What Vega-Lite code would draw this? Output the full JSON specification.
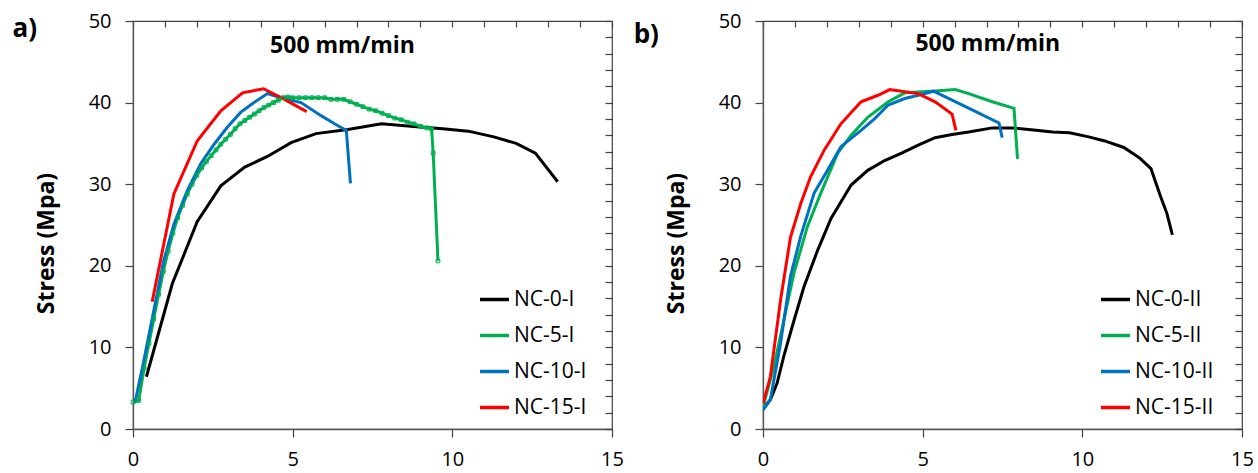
{
  "$schema": "https://vega.github.io/schema/vega-lite/v6.json",
  "background": "white",
  "padding": {"left": 12, "top": 10, "right": 4, "bottom": 2},
  "bounds": "flush",
  "spacing": 151,
  "datasets": {
    "a": [
      {"series": "NC-0-I", "strain": 0.42, "stress": 6.4},
      {"series": "NC-0-I", "strain": 1.23, "stress": 17.8},
      {"series": "NC-0-I", "strain": 2.01, "stress": 25.4},
      {"series": "NC-0-I", "strain": 2.75, "stress": 29.8},
      {"series": "NC-0-I", "strain": 3.5, "stress": 32.1},
      {"series": "NC-0-I", "strain": 4.21, "stress": 33.4},
      {"series": "NC-0-I", "strain": 4.95, "stress": 35.1},
      {"series": "NC-0-I", "strain": 5.73, "stress": 36.2},
      {"series": "NC-0-I", "strain": 6.73, "stress": 36.7},
      {"series": "NC-0-I", "strain": 7.78, "stress": 37.4},
      {"series": "NC-0-I", "strain": 8.7, "stress": 37.1},
      {"series": "NC-0-I", "strain": 9.7, "stress": 36.8},
      {"series": "NC-0-I", "strain": 10.5, "stress": 36.5},
      {"series": "NC-0-I", "strain": 11.3, "stress": 35.8},
      {"series": "NC-0-I", "strain": 12.0, "stress": 35.0},
      {"series": "NC-0-I", "strain": 12.6, "stress": 33.8},
      {"series": "NC-0-I", "strain": 13.3, "stress": 30.3},
      {"series": "NC-5-I", "strain": 0.0, "stress": 3.3},
      {"series": "NC-5-I", "strain": 0.18, "stress": 3.5},
      {"series": "NC-5-I", "strain": 0.35, "stress": 7.5},
      {"series": "NC-5-I", "strain": 0.5, "stress": 10.5},
      {"series": "NC-5-I", "strain": 0.65, "stress": 13.5},
      {"series": "NC-5-I", "strain": 0.8, "stress": 16.5},
      {"series": "NC-5-I", "strain": 0.95, "stress": 19.3},
      {"series": "NC-5-I", "strain": 1.1, "stress": 21.8},
      {"series": "NC-5-I", "strain": 1.25, "stress": 24.0},
      {"series": "NC-5-I", "strain": 1.4, "stress": 25.9},
      {"series": "NC-5-I", "strain": 1.55, "stress": 27.4},
      {"series": "NC-5-I", "strain": 1.7, "stress": 28.8},
      {"series": "NC-5-I", "strain": 1.85, "stress": 30.0},
      {"series": "NC-5-I", "strain": 2.0, "stress": 31.1},
      {"series": "NC-5-I", "strain": 2.15, "stress": 32.0},
      {"series": "NC-5-I", "strain": 2.3, "stress": 32.8},
      {"series": "NC-5-I", "strain": 2.45, "stress": 33.5},
      {"series": "NC-5-I", "strain": 2.6, "stress": 34.2},
      {"series": "NC-5-I", "strain": 2.75, "stress": 34.9},
      {"series": "NC-5-I", "strain": 2.9, "stress": 35.5},
      {"series": "NC-5-I", "strain": 3.05, "stress": 36.1},
      {"series": "NC-5-I", "strain": 3.2, "stress": 36.8},
      {"series": "NC-5-I", "strain": 3.35, "stress": 37.4},
      {"series": "NC-5-I", "strain": 3.5, "stress": 37.8},
      {"series": "NC-5-I", "strain": 3.65, "stress": 38.2},
      {"series": "NC-5-I", "strain": 3.8, "stress": 38.6},
      {"series": "NC-5-I", "strain": 3.95, "stress": 39.0},
      {"series": "NC-5-I", "strain": 4.1, "stress": 39.4},
      {"series": "NC-5-I", "strain": 4.25, "stress": 39.7},
      {"series": "NC-5-I", "strain": 4.4, "stress": 40.0},
      {"series": "NC-5-I", "strain": 4.55, "stress": 40.3},
      {"series": "NC-5-I", "strain": 4.7, "stress": 40.6},
      {"series": "NC-5-I", "strain": 4.85, "stress": 40.7},
      {"series": "NC-5-I", "strain": 5.0, "stress": 40.6},
      {"series": "NC-5-I", "strain": 5.2, "stress": 40.6},
      {"series": "NC-5-I", "strain": 5.4, "stress": 40.6},
      {"series": "NC-5-I", "strain": 5.6, "stress": 40.6},
      {"series": "NC-5-I", "strain": 5.8, "stress": 40.6},
      {"series": "NC-5-I", "strain": 6.0, "stress": 40.6},
      {"series": "NC-5-I", "strain": 6.2, "stress": 40.4},
      {"series": "NC-5-I", "strain": 6.4, "stress": 40.4},
      {"series": "NC-5-I", "strain": 6.6, "stress": 40.4},
      {"series": "NC-5-I", "strain": 6.8, "stress": 40.1},
      {"series": "NC-5-I", "strain": 7.0, "stress": 39.8},
      {"series": "NC-5-I", "strain": 7.2, "stress": 39.5},
      {"series": "NC-5-I", "strain": 7.4, "stress": 39.2},
      {"series": "NC-5-I", "strain": 7.6, "stress": 39.0},
      {"series": "NC-5-I", "strain": 7.8, "stress": 38.7},
      {"series": "NC-5-I", "strain": 8.0, "stress": 38.4},
      {"series": "NC-5-I", "strain": 8.2, "stress": 38.1},
      {"series": "NC-5-I", "strain": 8.4, "stress": 37.9},
      {"series": "NC-5-I", "strain": 8.6, "stress": 37.6},
      {"series": "NC-5-I", "strain": 8.8, "stress": 37.4},
      {"series": "NC-5-I", "strain": 9.0, "stress": 37.1},
      {"series": "NC-5-I", "strain": 9.2, "stress": 36.9},
      {"series": "NC-5-I", "strain": 9.35, "stress": 36.8},
      {"series": "NC-5-I", "strain": 9.4, "stress": 33.8},
      {"series": "NC-5-I", "strain": 9.55, "stress": 20.6},
      {"series": "NC-10-I", "strain": 0.05, "stress": 3.2},
      {"series": "NC-10-I", "strain": 0.1, "stress": 3.9},
      {"series": "NC-10-I", "strain": 0.34, "stress": 8.4},
      {"series": "NC-10-I", "strain": 0.65, "stress": 14.5},
      {"series": "NC-10-I", "strain": 0.96, "stress": 20.6},
      {"series": "NC-10-I", "strain": 1.28, "stress": 25.1},
      {"series": "NC-10-I", "strain": 1.7, "stress": 29.2},
      {"series": "NC-10-I", "strain": 2.12, "stress": 32.5},
      {"series": "NC-10-I", "strain": 2.54, "stress": 34.9},
      {"series": "NC-10-I", "strain": 2.96, "stress": 37.0},
      {"series": "NC-10-I", "strain": 3.37, "stress": 38.8},
      {"series": "NC-10-I", "strain": 3.79, "stress": 40.0},
      {"series": "NC-10-I", "strain": 4.21, "stress": 41.1},
      {"series": "NC-10-I", "strain": 4.63, "stress": 40.6},
      {"series": "NC-10-I", "strain": 5.26, "stress": 40.0},
      {"series": "NC-10-I", "strain": 5.89, "stress": 38.4},
      {"series": "NC-10-I", "strain": 6.31, "stress": 37.4},
      {"series": "NC-10-I", "strain": 6.68, "stress": 36.6},
      {"series": "NC-10-I", "strain": 6.81, "stress": 30.1},
      {"series": "NC-15-I", "strain": 0.6, "stress": 15.6},
      {"series": "NC-15-I", "strain": 1.28, "stress": 28.8},
      {"series": "NC-15-I", "strain": 2.01, "stress": 35.3},
      {"series": "NC-15-I", "strain": 2.75, "stress": 39.0},
      {"series": "NC-15-I", "strain": 3.43, "stress": 41.2},
      {"series": "NC-15-I", "strain": 4.09, "stress": 41.7},
      {"series": "NC-15-I", "strain": 4.74, "stress": 40.4},
      {"series": "NC-15-I", "strain": 5.44, "stress": 38.9}
    ],
    "b": [
      {"series": "NC-0-II", "strain": 0.0, "stress": 2.5},
      {"series": "NC-0-II", "strain": 0.23, "stress": 3.6},
      {"series": "NC-0-II", "strain": 0.44, "stress": 5.6},
      {"series": "NC-0-II", "strain": 0.65, "stress": 8.9},
      {"series": "NC-0-II", "strain": 0.97, "stress": 13.3},
      {"series": "NC-0-II", "strain": 1.28, "stress": 17.4},
      {"series": "NC-0-II", "strain": 1.71, "stress": 21.9},
      {"series": "NC-0-II", "strain": 2.13, "stress": 25.8},
      {"series": "NC-0-II", "strain": 2.76, "stress": 29.9},
      {"series": "NC-0-II", "strain": 3.28, "stress": 31.7},
      {"series": "NC-0-II", "strain": 3.81, "stress": 32.9},
      {"series": "NC-0-II", "strain": 4.34, "stress": 33.8},
      {"series": "NC-0-II", "strain": 4.86, "stress": 34.8},
      {"series": "NC-0-II", "strain": 5.39, "stress": 35.7},
      {"series": "NC-0-II", "strain": 5.92, "stress": 36.1},
      {"series": "NC-0-II", "strain": 6.44, "stress": 36.4},
      {"series": "NC-0-II", "strain": 7.18, "stress": 36.9},
      {"series": "NC-0-II", "strain": 7.81, "stress": 36.9},
      {"series": "NC-0-II", "strain": 8.55, "stress": 36.6},
      {"series": "NC-0-II", "strain": 9.07, "stress": 36.4},
      {"series": "NC-0-II", "strain": 9.6, "stress": 36.3},
      {"series": "NC-0-II", "strain": 10.2, "stress": 35.8},
      {"series": "NC-0-II", "strain": 10.7, "stress": 35.3},
      {"series": "NC-0-II", "strain": 11.3, "stress": 34.5},
      {"series": "NC-0-II", "strain": 11.8, "stress": 33.2},
      {"series": "NC-0-II", "strain": 12.15, "stress": 31.9},
      {"series": "NC-0-II", "strain": 12.45, "stress": 28.5},
      {"series": "NC-0-II", "strain": 12.65, "stress": 26.4},
      {"series": "NC-0-II", "strain": 12.82, "stress": 23.8},
      {"series": "NC-5-II", "strain": 0.0, "stress": 2.7},
      {"series": "NC-5-II", "strain": 0.34, "stress": 7.6},
      {"series": "NC-5-II", "strain": 0.65, "stress": 13.3},
      {"series": "NC-5-II", "strain": 0.97, "stress": 19.1},
      {"series": "NC-5-II", "strain": 1.39, "stress": 24.8},
      {"series": "NC-5-II", "strain": 1.81, "stress": 28.9},
      {"series": "NC-5-II", "strain": 2.34, "stress": 33.8},
      {"series": "NC-5-II", "strain": 2.76, "stress": 36.0},
      {"series": "NC-5-II", "strain": 3.28, "stress": 38.2},
      {"series": "NC-5-II", "strain": 3.92, "stress": 40.1},
      {"series": "NC-5-II", "strain": 4.44, "stress": 41.2},
      {"series": "NC-5-II", "strain": 5.28, "stress": 41.4},
      {"series": "NC-5-II", "strain": 6.02, "stress": 41.6},
      {"series": "NC-5-II", "strain": 6.44, "stress": 41.1},
      {"series": "NC-5-II", "strain": 7.18, "stress": 40.1},
      {"series": "NC-5-II", "strain": 7.86, "stress": 39.3},
      {"series": "NC-5-II", "strain": 7.97, "stress": 33.1},
      {"series": "NC-10-II", "strain": 0.0, "stress": 2.3},
      {"series": "NC-10-II", "strain": 0.23, "stress": 3.6},
      {"series": "NC-10-II", "strain": 0.55, "stress": 10.5},
      {"series": "NC-10-II", "strain": 0.86, "stress": 18.7},
      {"series": "NC-10-II", "strain": 1.18, "stress": 23.6},
      {"series": "NC-10-II", "strain": 1.6, "stress": 28.9},
      {"series": "NC-10-II", "strain": 2.02, "stress": 31.7},
      {"series": "NC-10-II", "strain": 2.44, "stress": 34.6},
      {"series": "NC-10-II", "strain": 3.07, "stress": 36.6},
      {"series": "NC-10-II", "strain": 3.49, "stress": 38.0},
      {"series": "NC-10-II", "strain": 3.92, "stress": 39.7},
      {"series": "NC-10-II", "strain": 4.44, "stress": 40.5},
      {"series": "NC-10-II", "strain": 4.86, "stress": 40.9},
      {"series": "NC-10-II", "strain": 5.34, "stress": 41.4},
      {"series": "NC-10-II", "strain": 5.92, "stress": 40.3},
      {"series": "NC-10-II", "strain": 6.55, "stress": 39.1},
      {"series": "NC-10-II", "strain": 7.39, "stress": 37.5},
      {"series": "NC-10-II", "strain": 7.49, "stress": 35.7},
      {"series": "NC-15-II", "strain": 0.0, "stress": 3.1},
      {"series": "NC-15-II", "strain": 0.23, "stress": 6.4},
      {"series": "NC-15-II", "strain": 0.55, "stress": 15.8},
      {"series": "NC-15-II", "strain": 0.86, "stress": 23.5},
      {"series": "NC-15-II", "strain": 1.18, "stress": 27.6},
      {"series": "NC-15-II", "strain": 1.49, "stress": 30.9},
      {"series": "NC-15-II", "strain": 1.92, "stress": 34.2},
      {"series": "NC-15-II", "strain": 2.44, "stress": 37.4},
      {"series": "NC-15-II", "strain": 3.07, "stress": 40.1},
      {"series": "NC-15-II", "strain": 3.6, "stress": 40.9},
      {"series": "NC-15-II", "strain": 3.97, "stress": 41.6},
      {"series": "NC-15-II", "strain": 4.34, "stress": 41.4},
      {"series": "NC-15-II", "strain": 4.86, "stress": 41.1},
      {"series": "NC-15-II", "strain": 5.39, "stress": 40.1},
      {"series": "NC-15-II", "strain": 5.92, "stress": 38.6},
      {"series": "NC-15-II", "strain": 6.04, "stress": 36.6}
    ]
  },
  "resolve": {"scale": {"color": "independent"}, "legend": {"color": "independent"}},
  "hconcat": [
    {
      "width": 479,
      "height": 408,
      "resolve": {"axis": {"x": "independent", "y": "independent"}},
      "layer": [
        {
          "data": {"name": "a"},
          "mark": {"type": "line", "strokeWidth": 3, "clip": true},
          "encoding": {
            "x": {"field": "strain", "type": "quantitative", "scale": {"domain": [0, 15], "nice": false, "zero": false},
              "axis": {"values": [0, 5, 10, 15], "tickSize": 8, "labelPadding": 12, "title": null}},
            "y": {"field": "stress", "type": "quantitative", "scale": {"domain": [0, 50], "nice": false},
              "axis": {"values": [0, 10, 20, 30, 40, 50], "tickSize": 8, "labelPadding": 14, "title": "Stress (Mpa)", "titleX": -87, "titleY": 222, "titleBaseline": "middle"}},
            "color": {"field": "series", "type": "nominal",
              "scale": {"domain": ["NC-0-I", "NC-5-I", "NC-10-I", "NC-15-I"], "range": ["#000000", "#00B050", "#0070C0", "#FF0000"]},
              "legend": {"title": null, "orient": "none", "legendX": 345, "legendY": 262}}
          }
        },
        {
          "data": {"name": "a"},
          "transform": [{"filter": "datum.series === 'NC-5-I'"}],
          "mark": {"type": "point", "shape": "square", "size": 14, "filled": false, "color": "#00B050", "strokeWidth": 1, "opacity": 1},
          "encoding": {
            "x": {"field": "strain", "type": "quantitative",
              "axis": {"values": [0, 1, 2, 3, 4, 5, 6, 7, 8, 9, 10, 11, 12, 13, 14, 15], "tickSize": -6, "labels": false, "domain": false, "title": null}},
            "y": {"field": "stress", "type": "quantitative",
              "axis": {"values": [0, 2, 4, 6, 8, 10, 12, 14, 16, 18, 20, 22, 24, 26, 28, 30, 32, 34, 36, 38, 40, 42, 44, 46, 48, 50], "tickSize": -7, "labels": false, "domain": false, "title": null}}
          }
        },
        {
          "data": {"values": [{"label": "500 mm/min"}]},
          "mark": {"type": "text", "fontSize": 23, "fontWeight": "bold", "align": "center", "baseline": "middle", "color": "#000000"},
          "encoding": {
            "x": {"datum": 6.56, "type": "quantitative", "axis": null},
            "y": {"datum": 46.9, "type": "quantitative", "axis": null},
            "text": {"field": "label"}
          }
        },
        {
          "data": {"values": [{"label": "a)"}]},
          "mark": {"type": "text", "fontSize": 26, "fontWeight": "bold", "align": "left", "baseline": "middle", "color": "#000000"},
          "encoding": {
            "x": {"datum": -3.77, "type": "quantitative", "axis": null},
            "y": {"datum": 49.05, "type": "quantitative", "axis": null},
            "text": {"field": "label"}
          }
        }
      ]
    },
    {
      "width": 479,
      "height": 408,
      "resolve": {"axis": {"x": "independent", "y": "independent"}},
      "layer": [
        {
          "data": {"name": "b"},
          "mark": {"type": "line", "strokeWidth": 3, "clip": true},
          "encoding": {
            "x": {"field": "strain", "type": "quantitative", "scale": {"domain": [0, 15], "nice": false, "zero": false},
              "axis": {"values": [0, 5, 10, 15], "tickSize": 8, "labelPadding": 12, "title": null}},
            "y": {"field": "stress", "type": "quantitative", "scale": {"domain": [0, 50], "nice": false},
              "axis": {"values": [0, 10, 20, 30, 40, 50], "tickSize": 8, "labelPadding": 14, "title": "Stress (Mpa)", "titleX": -87, "titleY": 222, "titleBaseline": "middle"}},
            "color": {"field": "series", "type": "nominal",
              "scale": {"domain": ["NC-0-II", "NC-5-II", "NC-10-II", "NC-15-II"], "range": ["#000000", "#00B050", "#0070C0", "#FF0000"]},
              "legend": {"title": null, "orient": "none", "legendX": 336, "legendY": 262}}
          }
        },
        {
          "data": {"values": [{"label": "500 mm/min"}]},
          "mark": {"type": "text", "fontSize": 23, "fontWeight": "bold", "align": "center", "baseline": "middle", "color": "#000000"},
          "encoding": {
            "x": {"datum": 7.04, "type": "quantitative",
              "axis": {"values": [0, 1, 2, 3, 4, 5, 6, 7, 8, 9, 10, 11, 12, 13, 14, 15], "tickSize": -6, "labels": false, "domain": false, "title": null}},
            "y": {"datum": 47.2, "type": "quantitative",
              "axis": {"values": [0, 2, 4, 6, 8, 10, 12, 14, 16, 18, 20, 22, 24, 26, 28, 30, 32, 34, 36, 38, 40, 42, 44, 46, 48, 50], "tickSize": -7, "labels": false, "domain": false, "title": null}},
            "text": {"field": "label"}
          }
        },
        {
          "data": {"values": [{"label": "b)"}]},
          "mark": {"type": "text", "fontSize": 26, "fontWeight": "bold", "align": "left", "baseline": "middle", "color": "#000000"},
          "encoding": {
            "x": {"datum": -4.05, "type": "quantitative", "axis": null},
            "y": {"datum": 48.3, "type": "quantitative", "axis": null},
            "text": {"field": "label"}
          }
        }
      ]
    }
  ],
  "config": {
    "font": "Open Sans",
    "view": {"stroke": "#404040", "strokeWidth": 1.2},
    "axis": {
      "grid": false,
      "labelFlush": false,
      "labelFontSize": 20,
      "labelColor": "#000000",
      "labelFont": "Open Sans",
      "titleFont": "Open Sans",
      "titleFontSize": 23,
      "titleFontWeight": "bold",
      "titleColor": "#000000",
      "domainColor": "#555555",
      "domainWidth": 1.3,
      "tickColor": "#404040",
      "tickWidth": 1.2
    },
    "legend": {
      "symbolType": "stroke",
      "symbolSize": 841,
      "symbolStrokeWidth": 3.5,
      "labelFontSize": 21,
      "labelFont": "Open Sans",
      "labelColor": "#000000",
      "labelOffset": 3,
      "rowPadding": 9,
      "padding": 0,
      "labelLimit": 300
    }
  }
}
